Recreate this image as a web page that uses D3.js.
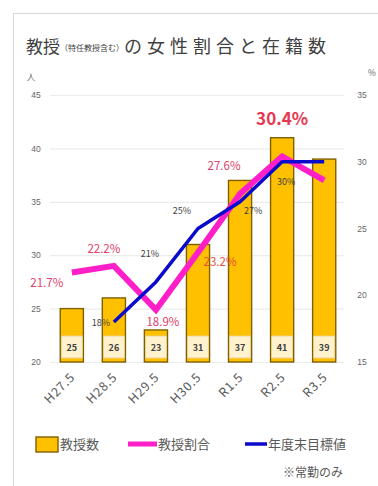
<!DOCTYPE html>
<html>
<head>
<meta charset="utf-8">
<script src="https://cdn.jsdelivr.net/npm/d3@7"></script>
<style>
  html, body { margin: 0; padding: 0; background: #fff; }
  svg { display: block; font-family: "Noto Sans CJK JP", "Noto Sans", sans-serif; }
</style>
</head>
<body>
<svg id="chart" width="378" height="486"></svg>
<script>
// Fiscal-year categories
const years = ["H27.5", "H28.5", "H29.5", "H30.5", "R1.5", "R2.5", "R3.5"];
// Number of professors (full-time only)
const counts = [25, 26, 23, 31, 37, 41, 39];
// Female ratio among professors (%)
const ratios = [21.7, 22.2, 18.9, 23.2, 27.6, 30.4, 28.6];
const ratioLabels = ["21.7%", "22.2%", "18.9%", "23.2%", "27.6%", "30.4%", null];
// End-of-year target (%), starting from H28.5
const targets = [null, 18, 21, 25, 27, 30, 30];
const targetLabels = [null, "18%", "21%", "25%", "27%", "30%", null];
// Axis ticks
const countTicks = [20, 25, 30, 35, 40, 45];
const ratioTicks = [15, 20, 25, 30, 35];

const svg = d3.select("#chart");

// card frame
svg.append("rect").attr("x", 13.5).attr("y", 13.5).attr("width", 380).attr("height", 480)
  .attr("fill", "#fff").attr("stroke", "#d9d9d9");

// title
const title = svg.append("text").attr("x", 26).attr("y", 53).attr("fill", "#404040");
title.append("tspan").attr("font-size", 17).text("教授");
title.append("tspan").attr("font-size", 8).attr("dy", -2).text("（特任教授含む）");
title.append("tspan").attr("font-size", 18).attr("dy", 2).attr("letter-spacing", 5).text("の女性割合と在籍数");

const x = d3.scaleBand().domain(years).range([51, 345]).paddingInner(0.45).paddingOuter(0.22);
const yL = d3.scaleLinear().domain([20, 45]).range([362, 95]);
const yR = d3.scaleLinear().domain([15, 35]).range([362, 95]);
const cx = d => x(d) + x.bandwidth() / 2;

// grid lines
svg.append("g").selectAll("line").data(countTicks).join("line")
  .attr("x1", 50).attr("x2", 344)
  .attr("y1", d => yL(d) + 0.5).attr("y2", d => yL(d) + 0.5)
  .attr("stroke", "#ececec").attr("stroke-width", 1.2);

// left axis (people)
const axL = svg.append("g").attr("transform", "translate(41,0)")
  .call(d3.axisLeft(yL).tickValues(countTicks).tickSize(0).tickPadding(0));
axL.select(".domain").remove();
axL.selectAll("text").attr("font-size", 8.5).attr("fill", "#666").attr("text-anchor", "middle").attr("dx", -5);
svg.append("text").attr("x", 31).attr("y", 80).attr("font-size", 8.5).attr("fill", "#666")
  .attr("text-anchor", "middle").text("人");

// right axis (%)
const axR = svg.append("g").attr("transform", "translate(356,0)")
  .call(d3.axisRight(yR).tickValues(ratioTicks).tickSize(0).tickPadding(0));
axR.select(".domain").remove();
axR.selectAll("text").attr("font-size", 8.5).attr("fill", "#666").attr("text-anchor", "middle").attr("dx", 6);
svg.append("text").attr("x", 372).attr("y", 76).attr("font-size", 8.5).attr("fill", "#666")
  .attr("text-anchor", "middle").text("%");

// bars
svg.append("g").selectAll("rect").data(counts).join("rect")
  .attr("x", (d, i) => x(years[i]))
  .attr("y", d => yL(d))
  .attr("width", x.bandwidth())
  .attr("height", d => yL(20) - yL(d))
  .attr("fill", "#FFC000").attr("stroke", "#7F6000").attr("stroke-width", 1.4);

// count labels in pale boxes at the base of each bar
const cl = svg.append("g").selectAll("g").data(counts).join("g")
  .attr("transform", (d, i) => `translate(${cx(years[i])},${yL(20) - 15})`);
cl.append("rect").attr("x", -10.5).attr("y", -11).attr("width", 21).attr("height", 22)
  .attr("fill", "#FFF2CC").attr("stroke", "#e3d29c").attr("stroke-width", 0.8);
cl.append("text").attr("y", 3.5).attr("text-anchor", "middle").attr("font-size", 9)
  .attr("font-weight", "bold").attr("fill", "#404040").text(d => d);

// female ratio line
const ratioLine = d3.line().x((d, i) => cx(years[i])).y(d => yR(d));
svg.append("path").datum(ratios).attr("d", ratioLine)
  .attr("fill", "none").attr("stroke", "#FF1FC8").attr("stroke-width", 6)
  .attr("stroke-linejoin", "miter");

// target line
const targetLine = d3.line().defined(d => d != null).x((d, i) => cx(years[i])).y(d => yR(d));
svg.append("path").datum(targets).attr("d", targetLine)
  .attr("fill", "none").attr("stroke", "#0A0ACC").attr("stroke-width", 3.5)
  .attr("stroke-linejoin", "round");

// ratio labels
const rOff = [[-25, 14], [-10, -13], [7, 16], [22, 13], [-16, -24], [0, -31], [0, 0]];
const ratioItems = ratios.map((v, i) => ({ v, i, label: ratioLabels[i] })).filter(o => o.label);
svg.append("g").selectAll("text").data(ratioItems).join("text")
  .attr("x", o => cx(years[o.i]) + rOff[o.i][0])
  .attr("y", o => yR(o.v) + rOff[o.i][1])
  .attr("text-anchor", "middle")
  .attr("font-size", o => o.i === 5 ? 17 : 11.5)
  .attr("font-weight", o => o.i === 5 ? "bold" : "normal")
  .attr("fill", o => o.i === 3 ? "#E8503A" : (o.i === 5 ? "#E8384F" : "#E0406A"))
  .text(o => o.label);

// target labels
const tOff = [[0, 0], [-13, 4], [-6, -25], [-16, -15], [13, 12], [4, 23], [0, 0]];
const targetItems = targets.map((v, i) => ({ v, i, label: targetLabels[i] })).filter(o => o.label);
svg.append("g").selectAll("text").data(targetItems).join("text")
  .attr("x", o => cx(years[o.i]) + tOff[o.i][0])
  .attr("y", o => yR(o.v) + tOff[o.i][1])
  .attr("text-anchor", "middle").attr("font-size", 9)
  .attr("fill", "#404040")
  .text(o => o.label);

// category labels, rotated
svg.append("g").selectAll("text").data(years).join("text")
  .attr("transform", d => `translate(${cx(d) + 4},${378}) rotate(-45)`)
  .attr("text-anchor", "end").attr("font-size", 12.5).attr("letter-spacing", 0.8).attr("fill", "#595959")
  .text(d => d);

// legend
const lg = svg.append("g").attr("font-size", 13).attr("fill", "#595959");
lg.append("rect").attr("x", 36).attr("y", 437).attr("width", 22).attr("height", 15)
  .attr("fill", "#FFC000").attr("stroke", "#7F6000").attr("stroke-width", 1.4);
lg.append("text").attr("x", 60).attr("y", 449).text("教授数");
lg.append("line").attr("x1", 128).attr("x2", 157).attr("y1", 444).attr("y2", 444)
  .attr("stroke", "#FF1FC8").attr("stroke-width", 5);
lg.append("text").attr("x", 158).attr("y", 449).text("教授割合");
lg.append("line").attr("x1", 245).attr("x2", 267).attr("y1", 444).attr("y2", 444)
  .attr("stroke", "#0A0ACC").attr("stroke-width", 3.5);
lg.append("text").attr("x", 268).attr("y", 449).text("年度末目標値");
svg.append("text").attr("x", 283).attr("y", 477).attr("font-size", 12).attr("fill", "#595959")
  .text("※常勤のみ");
</script>
</body>
</html>
